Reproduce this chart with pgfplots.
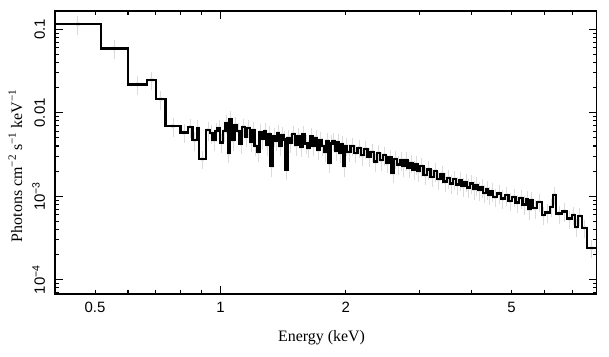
\documentclass[border=0pt]{standalone}
\usepackage{fontspec}
\setmainfont{Liberation Serif}
\setsansfont{Liberation Sans}
\usepackage{pgfplots}
\usepackage{pgfplotstable}
\pgfplotsset{compat=1.18}

\pgfplotstableread{
lo hi f
0.400 0.516 0.115
0.516 0.599 0.059
0.599 0.667 0.0219
0.667 0.701 0.0247
0.701 0.738 0.0145
0.738 0.801 0.0069
0.801 0.835 0.0058
0.835 0.857 0.0067
0.857 0.877 0.0047
0.877 0.887 0.0065
0.887 0.924 0.0028
0.924 0.945 0.0062
0.945 0.957 0.0057
0.957 0.973 0.0047
0.973 0.984 0.0060
0.984 0.999 0.0065
0.999 1.013 0.0044
1.013 1.029 0.0060
1.029 1.042 0.0075
1.042 1.052 0.0033
1.052 1.065 0.0083
1.065 1.081 0.0047
1.081 1.095 0.0071
1.095 1.112 0.0060
1.112 1.128 0.0043
1.128 1.144 0.0068
1.144 1.160 0.0052
1.160 1.176 0.0066
1.176 1.192 0.0045
1.192 1.208 0.0062
1.208 1.224 0.0040
1.224 1.240 0.0034
1.240 1.256 0.0058
1.256 1.272 0.0049
1.272 1.288 0.0060
1.288 1.304 0.0041
1.304 1.320 0.0056
1.320 1.336 0.0023
1.336 1.352 0.0052
1.352 1.368 0.0046
1.368 1.384 0.0057
1.384 1.400 0.0040
1.400 1.416 0.0054
1.416 1.432 0.0048
1.432 1.448 0.0021
1.448 1.464 0.0050
1.464 1.486 0.0044
1.486 1.508 0.0056
1.508 1.530 0.0041
1.530 1.552 0.0053
1.552 1.574 0.0039
1.574 1.596 0.0055
1.596 1.618 0.0043
1.618 1.640 0.0038
1.640 1.662 0.0052
1.662 1.684 0.0040
1.684 1.706 0.0050
1.706 1.728 0.0036
1.728 1.750 0.0047
1.750 1.772 0.0040
1.772 1.794 0.0034
1.794 1.816 0.0046
1.816 1.838 0.0025
1.838 1.860 0.0043
1.860 1.882 0.0046
1.882 1.904 0.0035
1.904 1.926 0.0044
1.926 1.948 0.0033
1.948 1.970 0.0042
1.970 1.992 0.0023
1.992 2.014 0.0040
2.014 2.054 0.0034
2.054 2.094 0.0040
2.094 2.134 0.0033
2.134 2.174 0.0038
2.174 2.214 0.0031
2.214 2.254 0.0037
2.254 2.294 0.0030
2.294 2.334 0.0034
2.334 2.374 0.0026
2.374 2.414 0.0033
2.414 2.454 0.0027
2.454 2.494 0.0031
2.494 2.534 0.0025
2.534 2.574 0.0029
2.574 2.614 0.0019
2.614 2.654 0.0028
2.654 2.694 0.0024
2.694 2.734 0.0027
2.734 2.774 0.0023
2.774 2.814 0.0027
2.814 2.854 0.0022
2.854 2.894 0.0025
2.894 2.934 0.0021
2.934 2.974 0.0024
2.974 3.014 0.0020
3.014 3.074 0.0023
3.074 3.134 0.0018
3.134 3.194 0.0021
3.194 3.254 0.0017
3.254 3.314 0.0020
3.314 3.374 0.0016
3.374 3.434 0.00185
3.434 3.494 0.00150
3.494 3.554 0.00165
3.554 3.614 0.00142
3.614 3.674 0.00160
3.674 3.734 0.00138
3.734 3.794 0.00155
3.794 3.854 0.00132
3.854 3.914 0.00148
3.914 3.974 0.00128
3.974 4.034 0.00142
4.034 4.094 0.00122
4.094 4.154 0.00136
4.154 4.214 0.00118
4.214 4.274 0.00128
4.274 4.334 0.00110
4.334 4.394 0.00122
4.394 4.454 0.00104
4.454 4.514 0.00114
4.514 4.614 0.00098
4.614 4.714 0.00108
4.714 4.814 0.00094
4.814 4.914 0.00103
4.914 5.014 0.00088
5.014 5.114 0.00098
5.114 5.214 0.00084
5.214 5.314 0.00095
5.314 5.414 0.00080
5.414 5.470 0.00092
5.470 5.550 0.00070
5.550 5.630 0.00090
5.630 5.750 0.00072
5.750 5.910 0.00086
5.910 6.010 0.00060
6.010 6.180 0.00064
6.180 6.280 0.00075
6.280 6.390 0.00104
6.390 6.600 0.00062
6.600 6.790 0.00066
6.790 6.980 0.00054
6.980 7.090 0.00060
7.090 7.210 0.00043
7.210 7.370 0.00058
7.370 7.580 0.00042
7.580 8.000 0.00024
8.000 8.000 0.00024
}\spec

\begin{document}
\begin{tikzpicture}
\begin{axis}[
  set layers,
  at={(0,0)}, anchor=south west,
  scale only axis, width=541.9bp, height=283.3bp,
  xmode=log, ymode=log,
  xmin=0.4, xmax=8, ymin=6.7e-5, ymax=0.1655,
  xtick={1}, xticklabels={1},
  extra x ticks={0.5,2,5}, extra x tick labels={0.5,2,5},
  extra x tick style={major tick length=4bp},
  minor xtick={0.6,0.7,0.8,0.9,3,4,6,7},
  ytick={1e-4,1e-3,1e-2,1e-1},
  yticklabels={10\textsuperscript{−4},10\textsuperscript{−3},0.01,0.1},
  minor ytick={7e-5,8e-5,9e-5,2e-4,3e-4,4e-4,5e-4,6e-4,7e-4,8e-4,9e-4,2e-3,3e-3,4e-3,5e-3,6e-3,7e-3,8e-3,9e-3,0.02,0.03,0.04,0.05,0.06,0.07,0.08,0.09},
  tick align=inside,
  major tick length=8bp, minor tick length=4bp,
  tick style={line width=1.1bp, black},
  axis line style={line width=1.6bp},
  xticklabel style={font=\sffamily\fontsize{15}{17}\selectfont, anchor=north, inner sep=0pt},
  xticklabel shift=8bp,
  yticklabel style={font=\sffamily\fontsize{15}{17}\selectfont, rotate=90, anchor=south, inner sep=0pt},
  yticklabel shift=9.5bp,
  xlabel={Energy (keV)},
  ylabel={Photons cm\textsuperscript{−2} s\textsuperscript{−1} keV\textsuperscript{−1}},
  xlabel style={font=\fontsize{16}{19}\selectfont, at={(axis description cs:0.4924,-0.168)}, anchor=base},
  ylabel style={font=\fontsize{16}{19}\selectfont, at={(axis description cs:-0.0603,0.454)}, anchor=base},
]
\addplot[forget plot, only marks, mark=none, color=black!14,
  error bars/.cd, y dir=both, y fixed relative=0.25, error mark=none,
  error bar style={line width=0.7bp, black!14}]
  table[x expr={sqrt(\thisrow{lo}*\thisrow{hi})}, y=f, skip coords between index={147}{148}] {\spec};
\addplot[on layer=axis foreground, const plot mark left, no marks, line width=2.4bp, black, line join=miter, miter limit=2] table[x=lo, y=f] {\spec};
\end{axis}
\pgfresetboundingbox
\path[use as bounding box] (-54.7bp,-62.7bp) rectangle (554.3bp,294.3bp);
\end{tikzpicture}
\end{document}
